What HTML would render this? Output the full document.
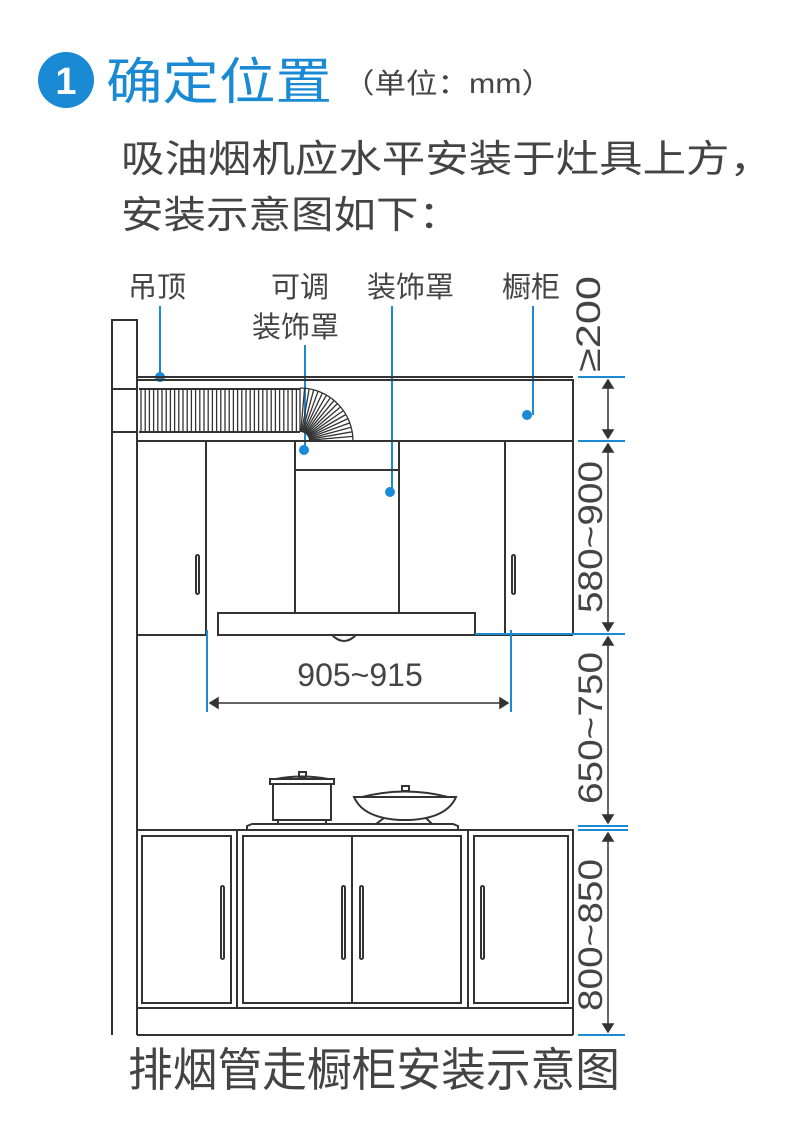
<!DOCTYPE html>
<html><head><meta charset="utf-8"><style>
html,body{margin:0;padding:0;background:#fff;}
svg{display:block;}
text{font-family:"Liberation Sans","Noto Sans CJK SC",sans-serif;}
</style></head><body>
<svg id="s" width="790" height="1148" viewBox="0 0 790 1148" xmlns="http://www.w3.org/2000/svg">
<circle cx="66" cy="80" r="28" fill="#1a8ad4"/>
<text x="66" y="94" font-size="38" font-weight="bold" fill="#fff" text-anchor="middle">1</text>
<text x="106" y="99" font-size="50" fill="#1a8ad4" textLength="226" lengthAdjust="spacingAndGlyphs">确定位置</text>
<text x="343" y="93" font-size="28" fill="#444" textLength="210" lengthAdjust="spacingAndGlyphs">（单位：mm）</text>
<text x="121" y="172" font-size="38" fill="#444" textLength="652" lengthAdjust="spacingAndGlyphs">吸油烟机应水平安装于灶具上方，</text>
<text x="121" y="228" font-size="38" fill="#444" textLength="340" lengthAdjust="spacingAndGlyphs">安装示意图如下：</text>
<g font-size="29" fill="#444">
<text x="128" y="297">吊顶</text>
<text x="271" y="297">可调</text>
<text x="252" y="337">装饰罩</text>
<text x="367" y="297">装饰罩</text>
<text x="502" y="297">橱柜</text>
<text transform="translate(600,372) rotate(-90)" font-size="34" textLength="96" lengthAdjust="spacingAndGlyphs">≥200</text>
</g>
<g stroke="#1a8ad4" stroke-width="2" fill="#1a8ad4">
<line x1="160" y1="306" x2="160" y2="377"/><circle cx="160" cy="377" r="4"/>
<line x1="305" y1="345" x2="305" y2="450"/><circle cx="304" cy="450" r="4"/>
<line x1="392" y1="306" x2="392" y2="492"/><circle cx="390" cy="492" r="4"/>
<line x1="533" y1="306" x2="533" y2="415"/><circle cx="527" cy="415" r="4"/>
</g>
<g stroke="#333" stroke-width="2" fill="none">
<path d="M112 1035 V320 H137 V1035"/>
<line x1="112" y1="389" x2="137" y2="389"/>
<line x1="112" y1="432" x2="137" y2="432"/>
<line x1="137" y1="377" x2="573" y2="377"/>
<rect x="137" y="380" width="436" height="61"/>
<line x1="137" y1="441" x2="137" y2="635"/>
<line x1="206" y1="441" x2="206" y2="635"/>
<line x1="505" y1="441" x2="505" y2="635"/>
<line x1="573" y1="441" x2="573" y2="635"/>
<line x1="137" y1="635" x2="206" y2="635"/>
<line x1="475" y1="635" x2="573" y2="635"/>
<rect x="196" y="555" width="3" height="39" rx="1.5"/>
<rect x="512" y="555" width="3" height="39" rx="1.5"/>
<rect x="295" y="441" width="104" height="29"/>
<rect x="295" y="470" width="104" height="143"/>
<rect x="218" y="613" width="257" height="22"/>
<path d="M332 635 Q344 647 356 635"/>
<path d="M139 389 H300 M139 432 H300"/>
<rect x="137" y="830" width="436" height="178"/>
<line x1="237" y1="830" x2="237" y2="1008"/>
<line x1="468" y1="830" x2="468" y2="1008"/>
<rect x="142" y="836" width="89" height="167"/>
<rect x="243" y="836" width="218" height="167"/>
<line x1="352" y1="836" x2="352" y2="1003"/>
<rect x="474" y="836" width="94" height="167"/>
<line x1="137" y1="1035" x2="573" y2="1035"/>
<line x1="573" y1="1008" x2="573" y2="1035"/>
<rect x="221" y="886" width="3" height="73" rx="1.5"/>
<rect x="342" y="886" width="3" height="73" rx="1.5"/>
<rect x="360" y="886" width="3" height="73" rx="1.5"/>
<rect x="481" y="886" width="3" height="73" rx="1.5"/>
<path d="M247 830 V826 L252 824 H453 L458 826 V830"/>
<rect x="273" y="784" width="58" height="36"/>
<path d="M270 779 H334 V784 H270 Z"/>
<path d="M276 779 Q302 774 328 779"/>
<rect x="299" y="772" width="7" height="5"/>
<path d="M278 820 V824 M326 820 V824"/>
<path d="M354 797 H456 Q447 818 410 820 H400 Q363 818 354 797 Z"/>
<path d="M362 797 Q405 786 448 797"/>
<rect x="402" y="786" width="7" height="5"/>
<path d="M376 824 L384 818 M432 824 L426 818"/>
</g>
<g stroke="#1a8ad4" stroke-width="2">
<line x1="578" y1="377" x2="625" y2="377"/>
<line x1="578" y1="441" x2="625" y2="441"/>
<line x1="475" y1="634" x2="625" y2="634"/>
<line x1="578" y1="826" x2="628" y2="826"/>
<line x1="578" y1="830" x2="628" y2="830"/>
<line x1="578" y1="1035" x2="625" y2="1035"/>
<line x1="207" y1="630" x2="207" y2="712"/>
<line x1="511" y1="630" x2="511" y2="712"/>
</g>
<g stroke="#333" stroke-width="1.5" fill="#333">
<line x1="608" y1="380" x2="608" y2="438"/>
<path d="M603 388 L608 380 L613 388Z M603 430 L608 438 L613 430Z"/>
<line x1="608" y1="444" x2="608" y2="631"/>
<path d="M603 452 L608 444 L613 452Z M603 623 L608 631 L613 623Z"/>
<line x1="608" y1="637" x2="608" y2="823"/>
<path d="M603 645 L608 637 L613 645Z M603 815 L608 823 L613 815Z"/>
<line x1="608" y1="833" x2="608" y2="1032"/>
<path d="M603 841 L608 833 L613 841Z M603 1024 L608 1032 L613 1024Z"/>
<line x1="210" y1="703" x2="508" y2="703"/>
<path d="M218 698 L210 703 L218 708Z M500 698 L508 703 L500 708Z"/>
</g>
<g font-size="34" fill="#444">
<text x="360" y="686" text-anchor="middle" font-size="32">905~915</text>
<text transform="translate(602,537) rotate(-90)" text-anchor="middle" textLength="152" lengthAdjust="spacingAndGlyphs">580~900</text>
<text transform="translate(602,728) rotate(-90)" text-anchor="middle" textLength="152" lengthAdjust="spacingAndGlyphs">650~750</text>
<text transform="translate(602,935) rotate(-90)" text-anchor="middle" textLength="152" lengthAdjust="spacingAndGlyphs">800~850</text>
</g>
<text x="128" y="1086" font-size="46" fill="#444" textLength="492" lengthAdjust="spacingAndGlyphs">排烟管走橱柜安装示意图</text>
<g id="corr" stroke="#333" stroke-width="1.3"></g>
</svg>
<script>
var g=document.getElementById('corr'),h='';
for(var x=141;x<=300;x+=4.2){h+='<line x1="'+x.toFixed(1)+'" y1="389" x2="'+x.toFixed(1)+'" y2="432"/>';}
var cx=300,cy=441;
for(var a=90;a>=0;a-=5){var r=a*Math.PI/180,c=Math.cos(r),s=Math.sin(r);
h+='<line x1="'+(cx+9*c).toFixed(1)+'" y1="'+(cy-9*s).toFixed(1)+'" x2="'+(cx+53*c).toFixed(1)+'" y2="'+(cy-53*s).toFixed(1)+'"/>';}
h+='<path d="M300 388 A53 53 0 0 1 353 441" fill="none"/>';
g.innerHTML=h;
</script>
</body></html>
